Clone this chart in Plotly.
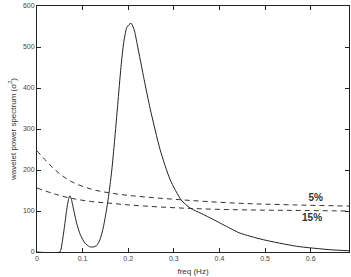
import plotly.graph_objects as go

freq = [0, 0.05, 0.055, 0.06, 0.065, 0.069, 0.0718, 0.075, 0.08, 0.087, 0.095, 0.105, 0.115, 0.123,
        0.131, 0.138, 0.145, 0.152, 0.158, 0.164, 0.17, 0.177, 0.184, 0.19, 0.197, 0.206, 0.213,
        0.22, 0.235, 0.248, 0.27, 0.292, 0.316, 0.336, 0.36, 0.387, 0.423, 0.445, 0.496,
        0.569, 0.642, 0.684]
power = [0, 0, 22, 60, 102, 128, 137, 130, 105, 70, 42, 22, 13, 12,
         16, 30, 58, 100, 145, 200, 270, 360, 450, 510, 548, 558, 542,
         505, 420, 350, 249, 176, 127, 107, 94, 79, 58, 46, 30,
         14, 5.6, 3]

sig_x = [0, 0.04, 0.075, 0.12, 0.16, 0.21, 0.32, 0.44, 0.56, 0.684]
sig5 = [247, 200, 172, 153, 144, 137, 127, 119, 115, 112]
sig15 = [156, 141, 131, 123, 119, 114, 107, 103, 101.5, 100]

labels = ["5%", "15%"]
label_x = [0.611, 0.603]
label_y = [130, 82]

x_ticks = [0, 0.1, 0.2, 0.3, 0.4, 0.5, 0.6]
x_ticktext = ["0", "0.1", "0.2", "0.3", "0.4", "0.5", "0.6"]
y_ticks = [0, 100, 200, 300, 400, 500, 600]

fig = go.Figure()
fig.add_trace(go.Scatter(x=freq, y=power, mode="lines",
                         line=dict(color="#222", width=1, shape="spline", smoothing=0.6),
                         showlegend=False))
fig.add_trace(go.Scatter(x=sig_x, y=sig5, mode="lines",
                         line=dict(color="#333", width=1, dash="5px,4px", shape="spline"),
                         showlegend=False))
fig.add_trace(go.Scatter(x=sig_x, y=sig15, mode="lines",
                         line=dict(color="#333", width=1, dash="5px,4px", shape="spline"),
                         showlegend=False))
fig.add_trace(go.Scatter(x=label_x, y=label_y, mode="text", text=labels,
                         textfont=dict(family="Liberation Sans", size=10, color="#333",
                                       weight="bold"),
                         showlegend=False))

axis_common = dict(showgrid=False, zeroline=False, showline=True, linecolor="#222",
                   linewidth=1, mirror="ticks", ticks="inside", ticklen=4,
                   tickcolor="#222", tickfont=dict(family="Liberation Sans", size=7, color="#444"))

fig.update_xaxes(range=[0, 0.684], tickvals=x_ticks, ticktext=x_ticktext,
                 title=dict(text="freq (Hz)", font=dict(family="Liberation Sans", size=8, color="#333"),
                            standoff=6),
                 **axis_common)
fig.update_yaxes(range=[0, 600], tickvals=y_ticks,
                 title=dict(text="wavelet power spectrum (σ<sup>2</sup>)",
                            font=dict(family="Liberation Sans", size=8, color="#333"), standoff=5),
                 **axis_common)

fig.update_layout(width=351, height=277, margin=dict(l=37, r=2, t=6, b=25),
                  plot_bgcolor="white", paper_bgcolor="white")

fig.write_html("out.html")
